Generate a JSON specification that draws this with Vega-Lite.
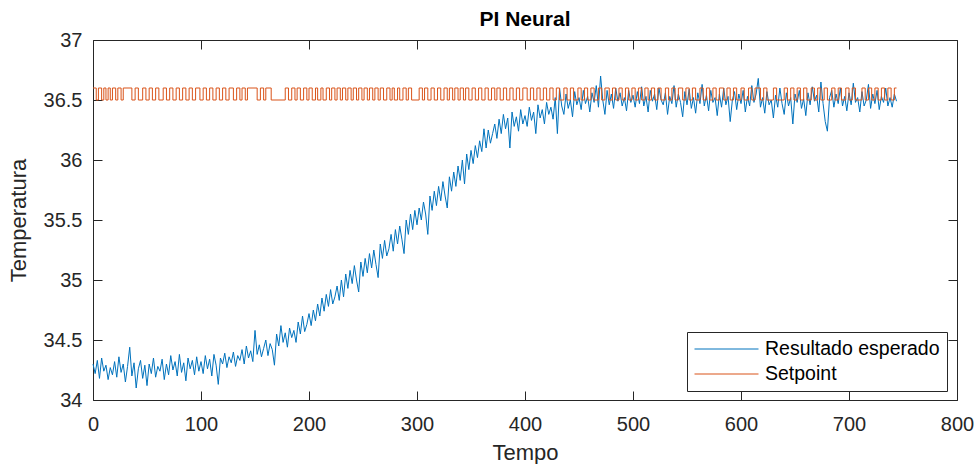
{
"$schema":"https://vega.github.io/schema/vega-lite/v6.json",
"width":864,"height":360,
"autosize":{"type":"none"},
"padding":{"left":93,"top":40,"right":19,"bottom":64},
"background":"white",
"title":{"text":"PI Neural","font":"Liberation Sans","fontSize":21,"fontWeight":"bold","color":"#000000","offset":0,"anchor":"middle"},
"config":{"view":{"stroke":null},
"axis":{"domainColor":"#262626","tickColor":"#262626","labelColor":"#262626","titleColor":"#262626","labelFont":"Liberation Sans","titleFont":"Liberation Sans","labelFontSize":20,"titleFontSize":22,"titleFontWeight":"normal","grid":false,"tickSize":-9,"tickWidth":1,"domainWidth":1,"labelFlush":false,"labelOverlap":false}},
"datasets":{
"b":[{"t":0,"v":34.30},{"t":2,"v":34.22},{"t":4,"v":34.33},{"t":6,"v":34.18},{"t":8,"v":34.35},{"t":10,"v":34.24},{"t":12,"v":34.29},{"t":14,"v":34.17},{"t":16,"v":34.27},{"t":18,"v":34.21},{"t":20,"v":34.32},{"t":22,"v":34.19},{"t":24,"v":34.36},{"t":26,"v":34.23},{"t":28,"v":34.30},{"t":30,"v":34.15},{"t":32,"v":34.28},{"t":34,"v":34.44},{"t":36,"v":34.20},{"t":38,"v":34.31},{"t":40,"v":34.10},{"t":42,"v":34.26},{"t":44,"v":34.33},{"t":46,"v":34.18},{"t":48,"v":34.29},{"t":50,"v":34.12},{"t":52,"v":34.30},{"t":54,"v":34.22},{"t":56,"v":34.35},{"t":58,"v":34.19},{"t":60,"v":34.28},{"t":62,"v":34.24},{"t":64,"v":34.34},{"t":66,"v":34.17},{"t":68,"v":34.30},{"t":70,"v":34.21},{"t":72,"v":34.37},{"t":74,"v":34.25},{"t":76,"v":34.32},{"t":78,"v":34.20},{"t":80,"v":34.38},{"t":82,"v":34.23},{"t":84,"v":34.31},{"t":86,"v":34.16},{"t":88,"v":34.35},{"t":90,"v":34.26},{"t":92,"v":34.33},{"t":94,"v":34.21},{"t":96,"v":34.36},{"t":98,"v":34.24},{"t":100,"v":34.32},
{"t":102,"v":34.22},{"t":104,"v":34.37},{"t":106,"v":34.26},{"t":108,"v":34.34},{"t":110,"v":34.20},{"t":112,"v":34.38},{"t":114,"v":34.29},{"t":116,"v":34.13},{"t":118,"v":34.35},{"t":120,"v":34.30},{"t":122,"v":34.39},{"t":124,"v":34.27},{"t":126,"v":34.36},{"t":128,"v":34.31},{"t":130,"v":34.40},{"t":132,"v":34.28},{"t":134,"v":34.37},{"t":136,"v":34.33},{"t":138,"v":34.42},{"t":140,"v":34.30},{"t":142,"v":34.45},{"t":144,"v":34.35},{"t":146,"v":34.41},{"t":148,"v":34.32},{"t":150,"v":34.58},{"t":152,"v":34.38},{"t":154,"v":34.46},{"t":156,"v":34.36},{"t":158,"v":34.43},{"t":160,"v":34.50},{"t":162,"v":34.37},{"t":164,"v":34.47},{"t":166,"v":34.42},{"t":168,"v":34.29},{"t":170,"v":34.55},{"t":172,"v":34.45},{"t":174,"v":34.62},{"t":176,"v":34.48},{"t":178,"v":34.56},{"t":180,"v":34.44},{"t":182,"v":34.60},{"t":184,"v":34.52},{"t":186,"v":34.58},{"t":188,"v":34.48},{"t":190,"v":34.65},{"t":192,"v":34.55},{"t":194,"v":34.70},{"t":196,"v":34.57},{"t":198,"v":34.63},{"t":200,"v":34.72},
{"t":202,"v":34.62},{"t":204,"v":34.75},{"t":206,"v":34.66},{"t":208,"v":34.80},{"t":210,"v":34.70},{"t":212,"v":34.85},{"t":214,"v":34.74},{"t":216,"v":34.88},{"t":218,"v":34.78},{"t":220,"v":34.92},{"t":222,"v":34.80},{"t":224,"v":34.86},{"t":226,"v":34.95},{"t":228,"v":34.83},{"t":230,"v":35.00},{"t":232,"v":34.86},{"t":234,"v":35.05},{"t":236,"v":34.93},{"t":238,"v":35.08},{"t":240,"v":34.97},{"t":242,"v":35.12},{"t":244,"v":35.00},{"t":246,"v":34.90},{"t":248,"v":35.15},{"t":250,"v":35.03},{"t":252,"v":35.18},{"t":254,"v":35.06},{"t":256,"v":35.22},{"t":258,"v":35.10},{"t":260,"v":35.25},{"t":262,"v":35.13},{"t":264,"v":35.02},{"t":266,"v":35.30},{"t":268,"v":35.18},{"t":270,"v":35.33},{"t":272,"v":35.20},{"t":274,"v":35.26},{"t":276,"v":35.38},{"t":278,"v":35.24},{"t":280,"v":35.42},{"t":282,"v":35.30},{"t":284,"v":35.45},{"t":286,"v":35.34},{"t":288,"v":35.22},{"t":290,"v":35.50},{"t":292,"v":35.38},{"t":294,"v":35.55},{"t":296,"v":35.42},{"t":298,"v":35.58},{"t":300,"v":35.46},
{"t":302,"v":35.60},{"t":304,"v":35.50},{"t":306,"v":35.65},{"t":308,"v":35.55},{"t":310,"v":35.38},{"t":312,"v":35.70},{"t":314,"v":35.58},{"t":316,"v":35.74},{"t":318,"v":35.62},{"t":320,"v":35.78},{"t":322,"v":35.66},{"t":324,"v":35.82},{"t":326,"v":35.70},{"t":328,"v":35.60},{"t":330,"v":35.86},{"t":332,"v":35.74},{"t":334,"v":35.90},{"t":336,"v":35.78},{"t":338,"v":35.95},{"t":340,"v":35.83},{"t":342,"v":36.00},{"t":344,"v":35.80},{"t":346,"v":36.05},{"t":348,"v":35.92},{"t":350,"v":36.08},{"t":352,"v":35.97},{"t":354,"v":36.12},{"t":356,"v":36.02},{"t":358,"v":36.16},{"t":360,"v":36.07},{"t":362,"v":36.26},{"t":364,"v":36.10},{"t":366,"v":36.25},{"t":368,"v":36.14},{"t":370,"v":36.22},{"t":372,"v":36.30},{"t":374,"v":36.18},{"t":376,"v":36.34},{"t":378,"v":36.22},{"t":380,"v":36.38},{"t":382,"v":36.26},{"t":384,"v":36.35},{"t":386,"v":36.10},{"t":388,"v":36.40},{"t":390,"v":36.28},{"t":392,"v":36.36},{"t":394,"v":36.24},{"t":396,"v":36.42},{"t":398,"v":36.30},{"t":400,"v":36.37},
{"t":402,"v":36.28},{"t":404,"v":36.44},{"t":406,"v":36.33},{"t":408,"v":36.40},{"t":410,"v":36.22},{"t":412,"v":36.46},{"t":414,"v":36.35},{"t":416,"v":36.42},{"t":418,"v":36.30},{"t":420,"v":36.48},{"t":422,"v":36.38},{"t":424,"v":36.44},{"t":426,"v":36.34},{"t":428,"v":36.52},{"t":430,"v":36.22},{"t":432,"v":36.60},{"t":434,"v":36.45},{"t":436,"v":36.38},{"t":438,"v":36.55},{"t":440,"v":36.43},{"t":442,"v":36.50},{"t":444,"v":36.36},{"t":446,"v":36.57},{"t":448,"v":36.46},{"t":450,"v":36.52},{"t":452,"v":36.42},{"t":454,"v":36.58},{"t":456,"v":36.47},{"t":458,"v":36.53},{"t":460,"v":36.40},{"t":462,"v":36.56},{"t":464,"v":36.48},{"t":466,"v":36.62},{"t":468,"v":36.44},{"t":470,"v":36.70},{"t":472,"v":36.50},{"t":474,"v":36.38},{"t":476,"v":36.58},{"t":478,"v":36.46},{"t":480,"v":36.55},{"t":482,"v":36.43},{"t":484,"v":36.60},{"t":486,"v":36.49},{"t":488,"v":36.56},{"t":490,"v":36.45},{"t":492,"v":36.52},{"t":494,"v":36.41},{"t":496,"v":36.58},{"t":498,"v":36.48},{"t":500,"v":36.54},
{"t":502,"v":36.44},{"t":504,"v":36.57},{"t":506,"v":36.47},{"t":508,"v":36.61},{"t":510,"v":36.45},{"t":512,"v":36.53},{"t":514,"v":36.40},{"t":516,"v":36.58},{"t":518,"v":36.49},{"t":520,"v":36.55},{"t":522,"v":36.42},{"t":524,"v":36.60},{"t":526,"v":36.50},{"t":528,"v":36.46},{"t":530,"v":36.56},{"t":532,"v":36.38},{"t":534,"v":36.53},{"t":536,"v":36.47},{"t":538,"v":36.62},{"t":540,"v":36.44},{"t":542,"v":36.55},{"t":544,"v":36.48},{"t":546,"v":36.36},{"t":548,"v":36.57},{"t":550,"v":36.46},{"t":552,"v":36.59},{"t":554,"v":36.43},{"t":556,"v":36.52},{"t":558,"v":36.39},{"t":560,"v":36.56},{"t":562,"v":36.47},{"t":564,"v":36.63},{"t":566,"v":36.45},{"t":568,"v":36.54},{"t":570,"v":36.41},{"t":572,"v":36.58},{"t":574,"v":36.48},{"t":576,"v":36.52},{"t":578,"v":36.37},{"t":580,"v":36.55},{"t":582,"v":36.44},{"t":584,"v":36.60},{"t":586,"v":36.46},{"t":588,"v":36.53},{"t":590,"v":36.32},{"t":592,"v":36.50},{"t":594,"v":36.57},{"t":596,"v":36.42},{"t":598,"v":36.55},{"t":600,"v":36.47},
{"t":602,"v":36.58},{"t":604,"v":36.40},{"t":606,"v":36.53},{"t":608,"v":36.45},{"t":610,"v":36.62},{"t":612,"v":36.48},{"t":614,"v":36.55},{"t":616,"v":36.68},{"t":618,"v":36.44},{"t":620,"v":36.52},{"t":622,"v":36.39},{"t":624,"v":36.57},{"t":626,"v":36.46},{"t":628,"v":36.50},{"t":630,"v":36.35},{"t":632,"v":36.54},{"t":634,"v":36.44},{"t":636,"v":36.60},{"t":638,"v":36.47},{"t":640,"v":36.38},{"t":642,"v":36.56},{"t":644,"v":36.45},{"t":646,"v":36.52},{"t":648,"v":36.30},{"t":650,"v":36.55},{"t":652,"v":36.48},{"t":654,"v":36.58},{"t":656,"v":36.43},{"t":658,"v":36.51},{"t":660,"v":36.37},{"t":662,"v":36.56},{"t":664,"v":36.46},{"t":666,"v":36.61},{"t":668,"v":36.49},{"t":670,"v":36.54},{"t":672,"v":36.40},{"t":674,"v":36.65},{"t":676,"v":36.47},{"t":678,"v":36.32},{"t":680,"v":36.24},{"t":682,"v":36.52},{"t":684,"v":36.58},{"t":686,"v":36.44},{"t":688,"v":36.55},{"t":690,"v":36.47},{"t":692,"v":36.60},{"t":694,"v":36.45},{"t":696,"v":36.53},{"t":698,"v":36.41},{"t":700,"v":36.56},
{"t":702,"v":36.46},{"t":704,"v":36.64},{"t":706,"v":36.48},{"t":708,"v":36.52},{"t":710,"v":36.40},{"t":712,"v":36.57},{"t":714,"v":36.45},{"t":716,"v":36.50},{"t":718,"v":36.63},{"t":720,"v":36.43},{"t":722,"v":36.55},{"t":724,"v":36.47},{"t":726,"v":36.58},{"t":728,"v":36.42},{"t":730,"v":36.53},{"t":732,"v":36.48},{"t":734,"v":36.60},{"t":736,"v":36.45},{"t":738,"v":36.52},{"t":740,"v":36.44},{"t":742,"v":36.55},{"t":744,"v":36.49}],
"s":[{"t":0,"v":36.6},{"t":3,"v":36.5},{"t":5,"v":36.6},{"t":8,"v":36.5},{"t":10,"v":36.6},{"t":12,"v":36.5},{"t":14,"v":36.6},{"t":16,"v":36.5},{"t":18,"v":36.6},{"t":21,"v":36.5},{"t":23,"v":36.6},{"t":26,"v":36.5},{"t":28,"v":36.6},{"t":36,"v":36.5},{"t":39,"v":36.6},{"t":42,"v":36.5},{"t":46,"v":36.6},{"t":49,"v":36.5},{"t":52,"v":36.6},{"t":55,"v":36.5},{"t":58,"v":36.6},{"t":61,"v":36.5},{"t":65,"v":36.6},{"t":68,"v":36.5},{"t":71,"v":36.6},{"t":74,"v":36.5},{"t":77,"v":36.6},{"t":80,"v":36.5},{"t":83,"v":36.6},{"t":86,"v":36.5},{"t":89,"v":36.6},{"t":92,"v":36.5},{"t":95,"v":36.6},{"t":99,"v":36.5},{"t":102,"v":36.6},{"t":105,"v":36.5},{"t":108,"v":36.6},{"t":111,"v":36.5},{"t":114,"v":36.6},{"t":117,"v":36.5},{"t":120,"v":36.6},{"t":123,"v":36.5},{"t":126,"v":36.6},{"t":130,"v":36.5},{"t":133,"v":36.6},{"t":136,"v":36.5},{"t":138,"v":36.6},{"t":141,"v":36.5},{"t":143,"v":36.6},{"t":152,"v":36.5},{"t":155,"v":36.6},{"t":158,"v":36.5},{"t":160,"v":36.6},{"t":165,"v":36.5},{"t":178,"v":36.6},{"t":181,"v":36.5},{"t":184,"v":36.6},{"t":187,"v":36.5},{"t":189,"v":36.6},{"t":192,"v":36.5},{"t":195,"v":36.6},{"t":198,"v":36.5},{"t":200,"v":36.6},{"t":203,"v":36.5},{"t":206,"v":36.6},{"t":208,"v":36.5},{"t":211,"v":36.6},{"t":213,"v":36.5},{"t":216,"v":36.6},{"t":219,"v":36.5},{"t":221,"v":36.6},{"t":224,"v":36.5},{"t":226,"v":36.6},{"t":229,"v":36.5},{"t":231,"v":36.6},{"t":234,"v":36.5},{"t":236,"v":36.6},{"t":239,"v":36.5},{"t":241,"v":36.6},{"t":244,"v":36.5},{"t":246,"v":36.6},{"t":249,"v":36.5},{"t":251,"v":36.6},{"t":254,"v":36.5},{"t":256,"v":36.6},{"t":259,"v":36.5},{"t":261,"v":36.6},{"t":264,"v":36.5},{"t":266,"v":36.6},{"t":269,"v":36.5},{"t":272,"v":36.6},{"t":275,"v":36.5},{"t":277,"v":36.6},{"t":279,"v":36.5},{"t":282,"v":36.6},{"t":284,"v":36.5},{"t":287,"v":36.6},{"t":290,"v":36.5},{"t":292,"v":36.6},{"t":295,"v":36.5},{"t":302,"v":36.6},{"t":305,"v":36.5},{"t":307,"v":36.6},{"t":310,"v":36.5},{"t":313,"v":36.6},{"t":316,"v":36.5},{"t":319,"v":36.6},{"t":322,"v":36.5},{"t":325,"v":36.6},{"t":328,"v":36.5},{"t":330,"v":36.6},{"t":333,"v":36.5},{"t":335,"v":36.6},{"t":338,"v":36.5},{"t":340,"v":36.6},{"t":343,"v":36.5},{"t":345,"v":36.6},{"t":348,"v":36.5},{"t":351,"v":36.6},{"t":354,"v":36.5},{"t":357,"v":36.6},{"t":360,"v":36.5},{"t":363,"v":36.6},{"t":366,"v":36.5},{"t":369,"v":36.6},{"t":372,"v":36.5},{"t":374,"v":36.6},{"t":377,"v":36.5},{"t":380,"v":36.6},{"t":383,"v":36.5},{"t":386,"v":36.6},{"t":389,"v":36.5},{"t":392,"v":36.6},{"t":395,"v":36.5},{"t":398,"v":36.6},{"t":402,"v":36.5},{"t":405,"v":36.6},{"t":408,"v":36.5},{"t":411,"v":36.6},{"t":414,"v":36.5},{"t":417,"v":36.6},{"t":420,"v":36.5},{"t":423,"v":36.6},{"t":426,"v":36.5},{"t":429,"v":36.6},{"t":432,"v":36.5},{"t":436,"v":36.6},{"t":439,"v":36.5},{"t":442,"v":36.6},{"t":445,"v":36.5},{"t":449,"v":36.6},{"t":452,"v":36.5},{"t":455,"v":36.6},{"t":458,"v":36.5},{"t":461,"v":36.6},{"t":464,"v":36.5},{"t":468,"v":36.6},{"t":471,"v":36.5},{"t":474,"v":36.6},{"t":478,"v":36.5},{"t":481,"v":36.6},{"t":484,"v":36.5},{"t":487,"v":36.6},{"t":490,"v":36.5},{"t":493,"v":36.6},{"t":496,"v":36.5},{"t":499,"v":36.6},{"t":502,"v":36.5},{"t":505,"v":36.6},{"t":508,"v":36.5},{"t":511,"v":36.6},{"t":514,"v":36.5},{"t":517,"v":36.6},{"t":520,"v":36.5},{"t":523,"v":36.6},{"t":526,"v":36.5},{"t":530,"v":36.6},{"t":533,"v":36.5},{"t":536,"v":36.6},{"t":539,"v":36.5},{"t":542,"v":36.6},{"t":546,"v":36.5},{"t":549,"v":36.6},{"t":552,"v":36.5},{"t":555,"v":36.6},{"t":558,"v":36.5},{"t":562,"v":36.6},{"t":565,"v":36.5},{"t":568,"v":36.6},{"t":571,"v":36.5},{"t":574,"v":36.6},{"t":577,"v":36.5},{"t":580,"v":36.6},{"t":584,"v":36.5},{"t":587,"v":36.6},{"t":590,"v":36.5},{"t":593,"v":36.6},{"t":596,"v":36.5},{"t":600,"v":36.6},{"t":603,"v":36.5},{"t":607,"v":36.6},{"t":610,"v":36.5},{"t":613,"v":36.6},{"t":618,"v":36.5},{"t":621,"v":36.6},{"t":624,"v":36.5},{"t":630,"v":36.6},{"t":633,"v":36.5},{"t":640,"v":36.6},{"t":643,"v":36.5},{"t":646,"v":36.6},{"t":649,"v":36.5},{"t":652,"v":36.6},{"t":655,"v":36.5},{"t":658,"v":36.6},{"t":661,"v":36.5},{"t":665,"v":36.6},{"t":668,"v":36.5},{"t":671,"v":36.6},{"t":674,"v":36.5},{"t":677,"v":36.6},{"t":680,"v":36.5},{"t":684,"v":36.6},{"t":687,"v":36.5},{"t":690,"v":36.6},{"t":693,"v":36.5},{"t":697,"v":36.6},{"t":700,"v":36.5},{"t":703,"v":36.6},{"t":706,"v":36.5},{"t":712,"v":36.6},{"t":715,"v":36.5},{"t":718,"v":36.6},{"t":721,"v":36.5},{"t":724,"v":36.6},{"t":727,"v":36.5},{"t":730,"v":36.6},{"t":733,"v":36.5},{"t":736,"v":36.6},{"t":739,"v":36.5},{"t":742,"v":36.6},{"t":744,"v":36.6}]
},
"layer":[
{"data":{"name":"b"},"mark":{"type":"line","strokeWidth":1},
"encoding":{
"x":{"field":"t","type":"quantitative","scale":{"domain":[0,800],"nice":false},"axis":{"orient":"bottom","values":[0,100,200,300,400,500,600,700,800],"title":"Tempo","labelPadding":23,"titlePadding":8}},
"y":{"field":"v","type":"quantitative","scale":{"domain":[34,37],"nice":false,"zero":false},"axis":{"orient":"left","values":[34,34.5,35,35.5,36,36.5,37],"format":"~g","title":"Temperatura","labelPadding":20,"titlePadding":13}},
"color":{"datum":"Resultado esperado","type":"nominal","scale":{"domain":["Resultado esperado","Setpoint"],"range":["#0072BD","#D95319"]},"legend":{"title":null,"orient":"none","legendX":594,"legendY":292,"symbolType":"stroke","symbolSize":4096,"symbolStrokeWidth":1,"clipHeight":20,"labelLimit":400,"labelFont":"Liberation Sans","labelFontSize":19.5,"labelColor":"#000000","labelOffset":6,"rowPadding":5,"padding":7,"strokeColor":"#262626","fillColor":"#ffffff"}}}},
{"data":{"name":"s"},"mark":{"type":"line","strokeWidth":1,"interpolate":"step-after"},
"encoding":{
"x":{"field":"t","type":"quantitative","axis":null},
"y":{"field":"v","type":"quantitative","axis":null},
"color":{"datum":"Setpoint","type":"nominal"}}},
{"data":{"name":"b"},"mark":{"type":"line","opacity":0},
"encoding":{
"x":{"field":"t","type":"quantitative","axis":{"orient":"top","values":[0,100,200,300,400,500,600,700,800],"labels":false,"title":null}},
"y":{"field":"v","type":"quantitative","axis":{"orient":"right","values":[34,34.5,35,35.5,36,36.5,37],"labels":false,"title":null}}}}
],
"resolve":{"axis":{"x":"independent","y":"independent"}}
}
